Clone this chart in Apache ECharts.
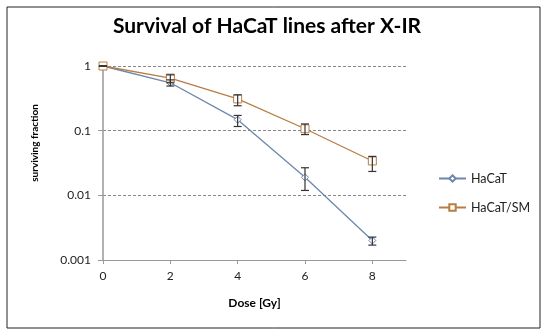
<!DOCTYPE html>
<html><head><meta charset="utf-8">
<script src="https://cdn.jsdelivr.net/npm/echarts@6/dist/echarts.min.js"></script>
<style>html,body{margin:0;padding:0;background:#fff;}#c{width:550px;height:334px;}</style>
</head><body><div id="c"></div>
<script>
var doses = [0, 2, 4, 6, 8];
var hacat = [1, 0.55, 0.148, 0.019, 0.0020];
var hacatLow = [1, 0.49, 0.116, 0.0119, 0.0017];
var hacatHigh = [1, 0.61, 0.172, 0.0267, 0.00226];
var sm = [1, 0.65, 0.31, 0.107, 0.034];
var smLow = [1, 0.55, 0.243, 0.087, 0.0234];
var smHigh = [1, 0.73, 0.358, 0.127, 0.040];
var xTicks = [0, 2, 4, 6, 8];
var yTicks = ['1', '0.1', '0.01', '0.001'];

var chart = echarts.init(document.getElementById('c'));
function pairs(ys){ return doses.map(function(d,i){ return [d, ys[i]]; }); }
function errData(lo, hi){ return doses.map(function(d,i){ return [d, lo[i], hi[i]]; }); }
function errRender(params, api){
  var x = api.value(0);
  var lo = api.coord([x, api.value(1)]);
  var hi = api.coord([x, api.value(2)]);
  var w = 4;
  var st = {stroke: '#333', lineWidth: 1.2};
  return {type: 'group', children: [
    {type: 'line', shape: {x1: lo[0], y1: lo[1], x2: hi[0], y2: hi[1]}, style: st},
    {type: 'line', shape: {x1: lo[0]-w, y1: lo[1], x2: lo[0]+w, y2: lo[1]}, style: st},
    {type: 'line', shape: {x1: hi[0]-w, y1: hi[1], x2: hi[0]+w, y2: hi[1]}, style: st}
  ]};
}
var font = 'Lato, "Open Sans", sans-serif';
chart.setOption({
  animation: false,
  textStyle: {fontFamily: font},
  title: {text: 'Survival of HaCaT lines after X-IR', left: 262, textAlign: 'center', top: 11,
    textStyle: {fontFamily: font, fontSize: 21, fontWeight: 'bold', color: '#000'}},
  grid: {left: 103, top: 66, right: 144, bottom: 74},
  legend: {
    orient: 'vertical', left: 433, top: 167, itemGap: 16, itemWidth: 27, itemHeight: 8,
    textStyle: {fontFamily: font, fontSize: 12.5, color: '#222'},
    data: ['HaCaT', 'HaCaT/SM']
  },
  graphic: [
    {type: 'rect', shape: {x: 7, y: 7, width: 533, height: 321}, style: {fill: 'none', stroke: '#222', lineWidth: 1}, z: 100},
    {type: 'text', x: 35, y: 143, rotation: Math.PI/2, style: {text: 'surviving fraction', fontFamily: font, fontSize: 10, fontWeight: 'bold', fill: '#000', align: 'center', verticalAlign: 'middle'}}
  ],
  xAxis: {
    type: 'value', min: 0, max: 9, interval: 2,
    name: 'Dose [Gy]', nameLocation: 'middle', nameGap: 37,
    nameTextStyle: {fontFamily: font, fontSize: 12, fontWeight: 'bold', color: '#000'},
    axisLine: {lineStyle: {color: '#999'}},
    axisTick: {show: true, length: 4, lineStyle: {color: '#999'}, customValues: xTicks},
    axisLabel: {fontSize: 12, color: '#222', margin: 10, customValues: xTicks},
    splitLine: {show: false}
  },
  yAxis: {
    type: 'log', logBase: 10, min: 0.001, max: 1,
    axisLine: {show: true, lineStyle: {color: '#999', width: 1.5}},
    axisTick: {show: true, length: 5, lineStyle: {color: '#999'}},
    axisLabel: {fontSize: 12, color: '#222', margin: 12, formatter: function(v){
      var idx = Math.round(-Math.log10(v)); return yTicks[idx] !== undefined ? yTicks[idx] : ''; }},
    splitLine: {show: true, lineStyle: {color: '#888', type: [3, 2], width: 1}}
  },
  series: [
    {name: 'HaCaT', type: 'line', data: pairs(hacat), symbol: 'diamond', symbolSize: 7,
      lineStyle: {color: '#6c87ab', width: 1.3}, itemStyle: {color: '#fff', borderColor: '#6c87ab', borderWidth: 1}, z: 3},
    {name: 'HaCaT/SM', type: 'line', data: pairs(sm), symbol: 'rect', symbolSize: 8,
      lineStyle: {color: '#b87d45', width: 1.3}, itemStyle: {color: '#fff', borderColor: '#b87d45', borderWidth: 1}, z: 3},
    {type: 'custom', renderItem: errRender, data: errData(hacatLow, hacatHigh), z: 5, silent: true},
    {type: 'custom', renderItem: errRender, data: errData(smLow, smHigh), z: 5, silent: true}
  ]
});
</script></body></html>
